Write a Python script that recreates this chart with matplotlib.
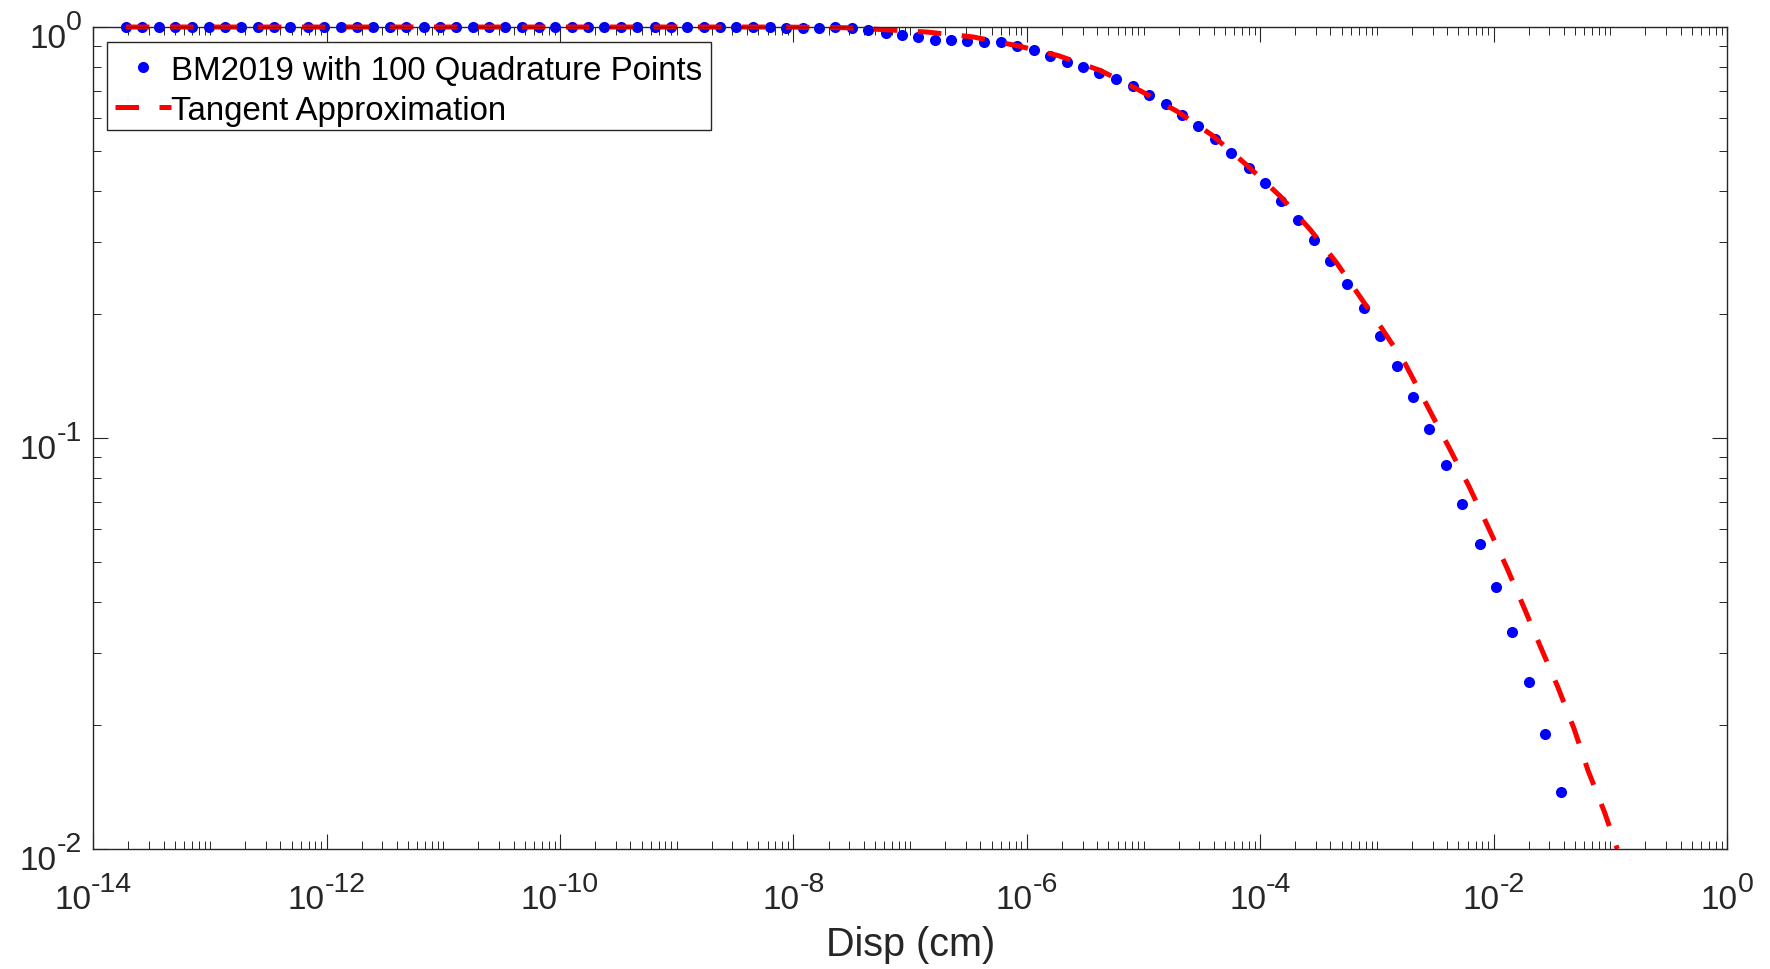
import matplotlib
matplotlib.use("Agg")
import matplotlib.pyplot as plt
import matplotlib.ticker as ticker
from matplotlib.transforms import Affine2D
import numpy as np

plt.rcParams['font.family'] = ['Liberation Sans', 'DejaVu Sans']

# BM2019 quadrature result (log10 of displacement, normalised value)
bm_exp = [-13.72, -13.58, -13.44, -13.30, -13.15, -13.01, -12.87, -12.73, -12.59, -12.45,
          -12.31, -12.16, -12.02, -11.88, -11.74, -11.60, -11.46, -11.32, -11.17, -11.03,
          -10.89, -10.75, -10.61, -10.47, -10.33, -10.18, -10.04, -9.90, -9.76, -9.62,
          -9.48, -9.34, -9.19, -9.05, -8.91, -8.77, -8.63, -8.49, -8.35, -8.20,
          -8.06, -7.92, -7.78, -7.64, -7.50, -7.36, -7.21, -7.07, -6.93, -6.79,
          -6.65, -6.51, -6.37, -6.22, -6.08, -5.94, -5.80, -5.66, -5.52, -5.38,
          -5.24, -5.09, -4.95, -4.81, -4.67, -4.53, -4.39, -4.25, -4.10, -3.96,
          -3.82, -3.68, -3.54, -3.40, -3.26, -3.11, -2.97, -2.83, -2.69, -2.55,
          -2.41, -2.27, -2.12, -1.98, -1.84, -1.70, -1.56, -1.42]
bm_val = [1.0] * 40 + [
    0.996, 0.996, 0.996, 0.998, 0.995, 0.985, 0.967, 0.956, 0.944, 0.930,
    0.932, 0.925, 0.921, 0.919, 0.897, 0.878, 0.852, 0.822, 0.801, 0.775,
    0.746, 0.719, 0.682, 0.648, 0.610, 0.575, 0.534, 0.495, 0.455, 0.418,
    0.377, 0.340, 0.303, 0.269, 0.237, 0.207, 0.177, 0.150, 0.126, 0.105,
    0.086, 0.0692, 0.0552, 0.0434, 0.0337, 0.0255, 0.0190, 0.0138]

# tangent approximation
tan_exp = [-13.72, -8.30, -7.96, -7.55, -7.21, -6.85, -6.46, -6.07, -5.73, -5.37,
           -5.04, -4.71, -4.41, -4.11, -3.83, -3.57, -3.35, -2.97, -2.76, -2.55,
           -2.38, -2.21, -2.05, -1.89, -1.74, -1.58, -1.45, -1.31, -1.19, -1.05, -0.94]
tan_val = [1.0, 1.0, 0.999, 0.996, 0.985, 0.972, 0.946, 0.899, 0.852, 0.784,
           0.703, 0.623, 0.545, 0.460, 0.388, 0.321, 0.268, 0.187, 0.152, 0.117,
           0.0946, 0.0762, 0.0610, 0.0486, 0.0387, 0.0302, 0.0248, 0.0196, 0.0155,
           0.0123, 0.0100]

x_major = [-14, -12, -10, -8, -6, -4, -2, 0]
y_major = [-2, -1, 0]

dark = (0.15, 0.15, 0.15)
base_size = 24
exp_size = 20.5

fig = plt.figure(figsize=(17.7, 9.7), dpi=100)
ax = fig.add_axes([0.0527, 0.1237, 0.9230, 0.8474])

bm_x = 10.0 ** np.array(bm_exp)
tan_x = 10.0 ** np.array(tan_exp)

ax.plot(bm_x, bm_val, linestyle='none', marker='o', markersize=8,
        color='blue', markeredgewidth=0, clip_on=False,
        label='BM2019 with 100 Quadrature Points')
ax.plot(tan_x, tan_val, color='red', linewidth=3.6, dashes=(4.7, 4.1),
        dash_capstyle='butt', clip_on=False, label='Tangent Approximation')

ax.set_xscale('log')
ax.set_yscale('log')
ax.set_xlim(1e-14, 1e0)
ax.set_ylim(1e-2, 1e0)

ax.set_xticks([10.0 ** e for e in x_major])
ax.set_yticks([10.0 ** e for e in y_major])
ax.xaxis.set_minor_locator(ticker.LogLocator(base=10, subs=np.arange(1, 10), numticks=100))
ax.yaxis.set_minor_locator(ticker.LogLocator(base=10, subs=np.arange(1, 10), numticks=100))
for a in (ax.xaxis, ax.yaxis):
    a.set_major_formatter(ticker.NullFormatter())
    a.set_minor_formatter(ticker.NullFormatter())

ax.tick_params(which='both', direction='in', top=True, right=True, color=dark)
ax.tick_params(which='major', length=11, width=0.8)
ax.tick_params(which='minor', length=5.5, width=0.7)
for s in ax.spines.values():
    s.set_color(dark)
    s.set_linewidth(1.0)

# tick labels drawn as "10" plus a raised exponent, MATLAB style
renderer = fig.canvas.get_renderer()
for e in x_major:
    b = ax.annotate('10', xy=(10.0 ** e, 0), xycoords=('data', 'axes fraction'),
                    xytext=(0, -59.3), textcoords='offset pixels', ha='left',
                    va='baseline', fontsize=base_size, color=dark, annotation_clip=False)
    s = ax.annotate(str(e), xy=(10.0 ** e, 0), xycoords=('data', 'axes fraction'),
                    xytext=(0, -41.7), textcoords='offset pixels', ha='left',
                    va='baseline', fontsize=exp_size, color=dark, annotation_clip=False)
    wb = b.get_window_extent(renderer).width
    ws = s.get_window_extent(renderer).width
    left = -(wb + ws) / 2
    b.xyann = (left, -59.3)
    s.xyann = (left + wb, -41.7)

for e in y_major:
    s = ax.annotate(str(e), xy=(0, 10.0 ** e), xycoords=('axes fraction', 'data'),
                    xytext=(-11.3, -1.7), textcoords='offset pixels', ha='right',
                    va='baseline', fontsize=exp_size, color=dark, annotation_clip=False)
    ws = s.get_window_extent(renderer).width
    ax.annotate('10', xy=(0, 10.0 ** e), xycoords=('axes fraction', 'data'),
                xytext=(-11.3 - ws, -20), textcoords='offset pixels', ha='right',
                va='baseline', fontsize=base_size, color=dark, annotation_clip=False)

fig.text(0.5142, 0.0144, 'Disp (cm)', ha='center', va='baseline',
         fontsize=28.5, color=dark)

leg = ax.legend(loc='upper left', bbox_to_anchor=(0.0084, 0.9818), borderaxespad=0,
                fontsize=23.8, numpoints=1, handlelength=1.7, handletextpad=0.0,
                borderpad=0.25, labelspacing=0.28, fancybox=False, framealpha=1,
                edgecolor=dark)
leg.get_frame().set_linewidth(1.0)
shift = Affine2D().translate(0, -4.5)
for a in leg.get_texts() + leg.get_lines():
    a.set_transform(a.get_transform() + shift)
for t in leg.get_texts():
    t.set_color('black')

fig.savefig('out.png', dpi=100)
